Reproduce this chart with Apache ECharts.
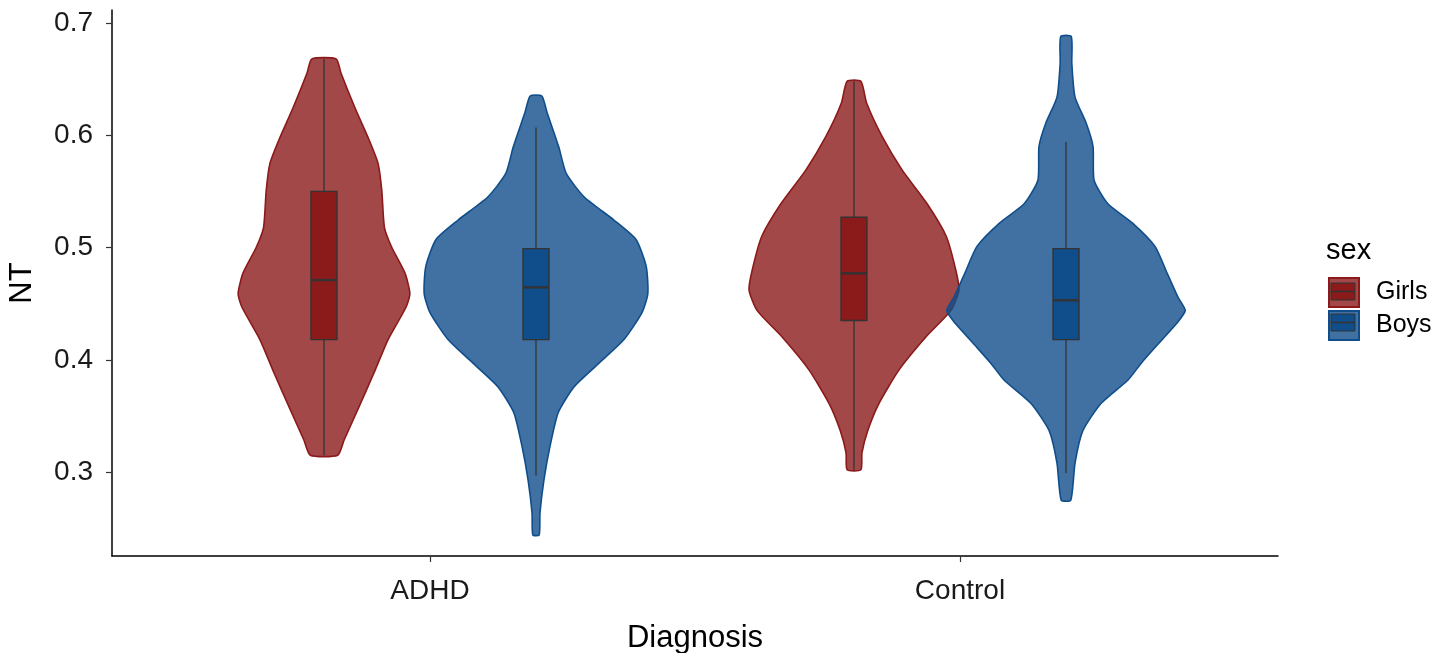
<!DOCTYPE html>
<html>
<head>
<meta charset="utf-8">
<script src="https://cdn.jsdelivr.net/npm/echarts@6/dist/echarts.min.js"></script>
<style>html,body{margin:0;padding:0;background:#fff}#c{width:1450px;height:653px}</style>
</head>
<body>
<div id="c"></div>
<script>
// ---- data ----
const categories = ['ADHD', 'Control'];
const sexes = ['Girls', 'Boys'];
const yTicks = [0.3, 0.4, 0.5, 0.6, 0.7];
// violin outlines: [NT value, half-width of density in category units]
const adhdGirlsViolin = [[0.668,0.023],[0.6555,0.032],[0.625,0.058],[0.596,0.085],[0.575,0.102],[0.551,0.109],[0.518,0.114],[0.500,0.128],[0.477,0.153],[0.459,0.162],[0.447,0.155],[0.418,0.121],[0.388,0.094],[0.358,0.066],[0.3285,0.038],[0.315,0.026]];
const adhdBoysViolin = [[0.635,0.011],[0.620,0.021],[0.5895,0.043],[0.566,0.057],[0.545,0.091],[0.5245,0.147],[0.507,0.189],[0.483,0.208],[0.459,0.211],[0.442,0.200],[0.418,0.166],[0.397,0.119],[0.376,0.072],[0.353,0.042],[0.322,0.026],[0.293,0.015],[0.2635,0.0075],[0.244,0.006]];
const controlGirlsViolin = [[0.648,0.013],[0.6285,0.024],[0.599,0.053],[0.569,0.091],[0.539,0.138],[0.510,0.174],[0.480,0.192],[0.462,0.198],[0.444,0.183],[0.4205,0.136],[0.391,0.085],[0.361,0.047],[0.337,0.026],[0.317,0.015],[0.302,0.013]];
const controlBoysViolin = [[0.688,0.010],[0.664,0.011],[0.634,0.017],[0.611,0.038],[0.590,0.051],[0.560,0.053],[0.539,0.079],[0.522,0.125],[0.501,0.168],[0.477,0.191],[0.456,0.211],[0.444,0.225],[0.4325,0.209],[0.412,0.170],[0.397,0.142],[0.382,0.117],[0.361,0.066],[0.337,0.032],[0.308,0.017],[0.275,0.009]];
// box stats: [lower whisker, Q1, median, Q3, upper whisker]
const adhdGirlsBox = [0.315, 0.418, 0.471, 0.550, 0.668];
const adhdBoysBox = [0.297, 0.418, 0.4645, 0.499, 0.607];
const controlGirlsBox = [0.302, 0.435, 0.477, 0.527, 0.648];
const controlBoysBox = [0.299, 0.418, 0.453, 0.499, 0.594];

// ---- styling ----
const FONT = '"Liberation Sans", Arial, sans-serif';
const DODGE = 0.2, BOX_HW = 0.0245;
const girlsViolinFill = 'rgba(139,26,26,0.8)', girlsLine = '#8B1A1A', girlsBox = '#8B1A1A';
const boysViolinFill = 'rgba(16,78,139,0.8)', boysLine = '#104E8B', boysBox = '#104E8B';

function violinRender(profiles, offset, fill, stroke) {
  return function (params, api) {
    const prof = profiles[params.dataIndex];
    const cx = api.value(0) + offset;
    const right = prof.map(p => api.coord([cx + p[1], p[0]]));
    const left = prof.slice().reverse().map(p => api.coord([cx - p[1], p[0]]));
    return {
      type: 'polygon',
      shape: { points: right.concat(left), smooth: 0.2 },
      style: { fill: fill, stroke: stroke, lineWidth: 1.6 }
    };
  };
}
function boxRender(boxes, offset, fill) {
  return function (params, api) {
    const b = boxes[params.dataIndex];
    const cx = api.value(0) + offset;
    const top = api.coord([cx, b[4]]), bot = api.coord([cx, b[0]]);
    const q3l = api.coord([cx - BOX_HW, b[3]]), q1r = api.coord([cx + BOX_HW, b[1]]);
    const mL = api.coord([cx - BOX_HW, b[2]]), mR = api.coord([cx + BOX_HW, b[2]]);
    return {
      type: 'group',
      children: [
        { type: 'line', shape: { x1: top[0], y1: top[1], x2: bot[0], y2: bot[1] }, style: { stroke: '#333', lineWidth: 1.3 } },
        { type: 'rect', shape: { x: q3l[0], y: q3l[1], width: q1r[0] - q3l[0], height: q1r[1] - q3l[1] }, style: { fill: fill, stroke: '#333', lineWidth: 1.4 } },
        { type: 'line', shape: { x1: mL[0], y1: mL[1], x2: mR[0], y2: mR[1] }, style: { stroke: '#333', lineWidth: 2.4 } }
      ]
    };
  };
}
const catData = categories.map((c, i) => [i + 1, 0.5]);

const chart = echarts.init(document.getElementById('c'), null, { renderer: 'canvas' });
chart.setOption({
  animation: false,
  backgroundColor: '#fff',
  textStyle: { fontFamily: FONT },
  grid: { left: 112, right: 172, top: 10, bottom: 97, containLabel: false, outerBoundsMode: 'none' },
  title: { text: 'sex', left: 1326, top: 236, padding: 0, textStyle: { fontSize: 29, fontWeight: 'normal', color: '#000', fontFamily: FONT } },
  legend: {
    data: sexes, orient: 'vertical', left: 1328, top: 277, padding: 0,
    icon: 'rect', itemWidth: 30, itemHeight: 29, itemGap: 2,
    textStyle: { fontSize: 25, color: '#000', fontFamily: FONT, padding: [4, 0, 0, 12] },
    selectedMode: false
  },
  xAxis: {
    type: 'value', min: 0.4, max: 2.6,
    name: 'Diagnosis', nameLocation: 'middle', nameGap: 67,
    nameTextStyle: { fontSize: 31, color: '#000', fontFamily: FONT },
    axisLine: { show: true, lineStyle: { color: '#000', width: 1.5 } },
    axisTick: { show: true, customValues: [1, 2], length: 6, lineStyle: { color: '#333', width: 1.2 } },
    axisLabel: { customValues: [1, 2], formatter: v => categories[Math.round(v) - 1] || '', fontSize: 28, color: '#1a1a1a', margin: 21, fontFamily: FONT },
    splitLine: { show: false }
  },
  yAxis: {
    type: 'value', min: 0.2252, max: 0.7116,
    name: 'NT', nameLocation: 'middle', nameGap: 74,
    nameTextStyle: { fontSize: 31, color: '#000', fontFamily: FONT },
    axisLine: { show: true, lineStyle: { color: '#000', width: 1.5 } },
    axisTick: { show: true, customValues: yTicks, length: 6, lineStyle: { color: '#333', width: 1.2 } },
    axisLabel: { customValues: yTicks, formatter: v => v.toFixed(1), fontSize: 28, color: '#1a1a1a', margin: 19, fontFamily: FONT },
    splitLine: { show: false }
  },
  series: [
    { name: 'Girls', type: 'custom', data: catData, renderItem: violinRender([adhdGirlsViolin, controlGirlsViolin], -DODGE, girlsViolinFill, girlsLine), itemStyle: { color: girlsViolinFill, borderColor: girlsLine, borderWidth: 1.5 }, z: 2 },
    { name: 'Boys', type: 'custom', data: catData, renderItem: violinRender([adhdBoysViolin, controlBoysViolin], DODGE, boysViolinFill, boysLine), itemStyle: { color: boysViolinFill, borderColor: boysLine, borderWidth: 1.5 }, z: 3 },
    { name: 'Girls', type: 'custom', data: catData, renderItem: boxRender([adhdGirlsBox, controlGirlsBox], -DODGE, girlsBox), itemStyle: { color: girlsViolinFill }, z: 4 },
    { name: 'Boys', type: 'custom', data: catData, renderItem: boxRender([adhdBoysBox, controlBoysBox], DODGE, boysBox), itemStyle: { color: boysViolinFill }, z: 5 }
  ],
  graphic: [
    { type: 'rect', shape: { x: 1331, y: 283, width: 24, height: 17 }, style: { fill: girlsBox, stroke: '#333', lineWidth: 1 }, z: 100 },
    { type: 'line', shape: { x1: 1331, y1: 291.5, x2: 1355, y2: 291.5 }, style: { stroke: '#333', lineWidth: 1.5 }, z: 100 },
    { type: 'rect', shape: { x: 1331, y: 314, width: 24, height: 17 }, style: { fill: boysBox, stroke: '#333', lineWidth: 1 }, z: 100 },
    { type: 'line', shape: { x1: 1331, y1: 322.5, x2: 1355, y2: 322.5 }, style: { stroke: '#333', lineWidth: 1.5 }, z: 100 }
  ]
});
</script>
</body>
</html>
